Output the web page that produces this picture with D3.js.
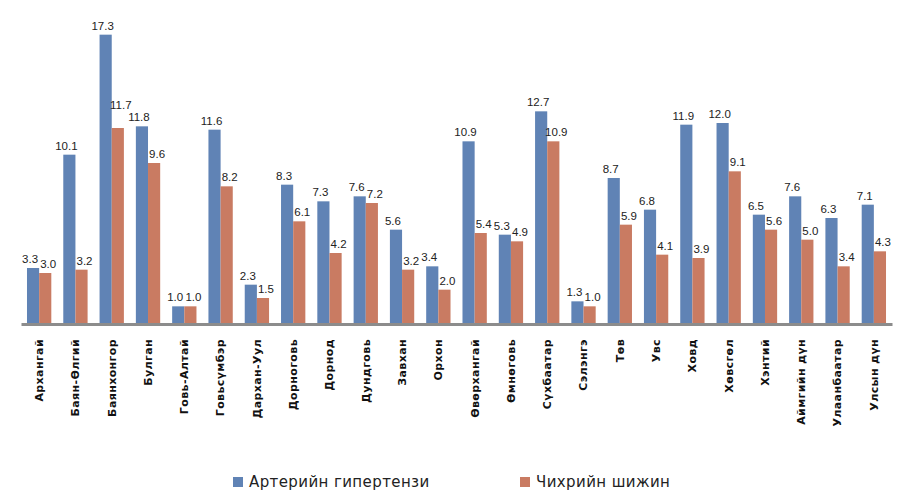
<!DOCTYPE html>
<html>
<head>
<meta charset="utf-8">
<script src="https://cdn.jsdelivr.net/npm/d3@7/dist/d3.min.js"></script>
<style>
  body { margin: 0; background: #fff; }
  svg { display: block; font-family: "DejaVu Sans", Arial, sans-serif; }
</style>
</head>
<body>
<svg id="chart" width="901" height="493"></svg>
<script>
// aimags / totals
var categories = ["Архангай", "Баян-Өлгий", "Баянхонгор", "Булган", "Говь-Алтай", "Говьсүмбэр",
  "Дархан-Уул", "Дорноговь", "Дорнод", "Дундговь", "Завхан", "Орхон", "Өвөрхангай", "Өмнөговь",
  "Сүхбаатар", "Сэлэнгэ", "Төв", "Увс", "Ховд", "Хөвсгөл", "Хэнтий", "Аймгийн дүн", "Улаанбаатар", "Улсын дүн"];

var hypertension = [3.3, 10.1, 17.3, 11.8, 1.0, 11.6, 2.3, 8.3, 7.3, 7.6, 5.6, 3.4, 10.9, 5.3, 12.7, 1.3, 8.7, 6.8, 11.9, 12.0, 6.5, 7.6, 6.3, 7.1];
var diabetes     = [3.0, 3.2, 11.7, 9.6, 1.0, 8.2, 1.5, 6.1, 4.2, 7.2, 3.2, 2.0, 5.4, 4.9, 10.9, 1.0, 5.9, 4.1, 3.9, 9.1, 5.6, 5.0, 3.4, 4.3];

var seriesNames = ["Артерийн гипертензи", "Чихрийн шижин"];
var colors = ["#6083b5", "#c97b62"];

var svg = d3.select("#chart");
var left = 21, right = 892, baseY = 323;

var x = d3.scaleBand().domain(categories).range([left, right]).paddingInner(0.33).paddingOuter(0.165);
var xs = d3.scaleBand().domain([0, 1]).range([0, x.bandwidth()]);
var y = d3.scaleLinear().domain([0, 18]).range([baseY, 23]);

var rows = categories.map(function(c, i) {
  return { cat: c, vals: [hypertension[i], diabetes[i]] };
});

var g = svg.selectAll("g.grp").data(rows).enter().append("g")
  .attr("class", "grp")
  .attr("transform", function(d) { return "translate(" + x(d.cat) + ",0)"; });

g.selectAll("rect").data(function(d) { return d.vals; }).enter().append("rect")
  .attr("x", function(v, i) { return xs(i); })
  .attr("width", xs.bandwidth())
  .attr("y", function(v) { return y(v); })
  .attr("height", function(v) { return baseY - y(v); })
  .attr("fill", function(v, i) { return colors[i]; });

// value labels; if one runs into the next, lift the earlier one
var labels = [];
rows.forEach(function(d) {
  d.vals.forEach(function(v, i) {
    labels.push({ v: v, cx: x(d.cat) + xs(i) + xs.bandwidth() / 2 + (i ? 3 : -3), by: y(v) - 5 });
  });
});

var lab = svg.append("g").selectAll("text").data(labels).enter().append("text")
  .attr("x", function(d) { return d.cx; })
  .attr("y", function(d) { return d.by; })
  .attr("text-anchor", "middle")
  .attr("font-family", "Liberation Sans, Arial, sans-serif")
  .attr("font-size", 11.5)
  .attr("fill", "#222")
  .text(function(d) { return d.v.toFixed(1); });

lab.each(function(d) { d.w = this.getComputedTextLength(); });
for (var k = 1; k < labels.length; k++) {
  var a = labels[k - 1], b = labels[k];
  var dx = (a.w + b.w) / 2 - Math.abs(a.cx - b.cx);
  if (dx > 0 && Math.abs(a.by - b.by) < 11) {
    a.by = b.by - 12;
  }
}
lab.attr("y", function(d) { return d.by; });

// x axis
var xAxis = svg.append("g")
  .attr("transform", "translate(0," + (baseY + 1) + ")")
  .call(d3.axisBottom(x).tickSize(0).tickPadding(0));
xAxis.select(".domain").attr("stroke", "#8c8c8c").attr("stroke-width", 3);
xAxis.selectAll("text")
  .attr("transform", "rotate(-90)")
  .attr("text-anchor", "end")
  .attr("x", -15)
  .attr("y", 0)
  .attr("dy", "0.35em")
  .attr("font-size", 11)
  .attr("font-weight", "bold")
  .attr("letter-spacing", 0.4)
  .attr("fill", "#111")
  .attr("font-family", "DejaVu Sans, Arial, sans-serif");

// legend
var legendX = [233, 520];
var lg = svg.selectAll("g.leg").data(seriesNames).enter().append("g")
  .attr("class", "leg")
  .attr("transform", function(d, i) { return "translate(" + legendX[i] + ",477)"; });
lg.append("rect").attr("width", 10).attr("height", 10)
  .attr("fill", function(d, i) { return colors[i]; });
lg.append("text").attr("x", 16).attr("y", 10)
  .attr("font-size", 15)
  .attr("letter-spacing", 0.4)
  .attr("fill", "#222")
  .text(function(d) { return d; });
</script>
</body>
</html>
